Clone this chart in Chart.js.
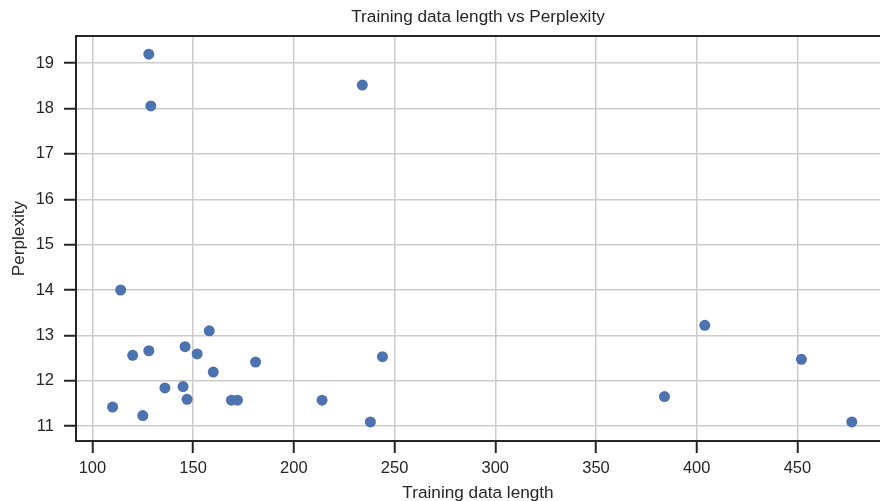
<!DOCTYPE html>
<html>
<head>
<meta charset="utf-8">
<script src="https://cdn.jsdelivr.net/npm/chart.js@4/dist/chart.umd.min.js"></script>
<style>
  html, body { margin: 0; padding: 0; background: #ffffff; }
  #wrap { width: 880px; height: 501px; position: relative; }
</style>
</head>
<body>
<div id="wrap"><canvas id="chart"></canvas></div>
<script>
const lengths = [128, 129, 234, 114, 120, 128, 146, 152, 158, 160, 181, 136, 145, 147, 110, 125, 169, 172, 214, 238, 244, 384, 404, 452, 477];
const perplexity = [19.2, 18.06, 18.52, 14.0, 12.56, 12.66, 12.75, 12.59, 13.1, 12.19, 12.41, 11.84, 11.87, 11.59, 11.42, 11.23, 11.57, 11.57, 11.57, 11.09, 12.53, 11.65, 13.22, 12.47, 11.09];
const xTicks = [100, 150, 200, 250, 300, 350, 400, 450];
const yTicks = [11, 12, 13, 14, 15, 16, 17, 18, 19];

const ink = "#262626";
const fontFamily = "'Liberation Sans', Arial, sans-serif";

const points = lengths.map((l, i) => ({ x: l, y: perplexity[i] }));

// matplotlib-like top spine
const topSpine = {
  id: "topSpine",
  afterDraw(chart) {
    const { ctx, chartArea } = chart;
    ctx.save();
    ctx.strokeStyle = ink;
    ctx.lineWidth = 2;
    ctx.beginPath();
    ctx.moveTo(chartArea.left - 1, chartArea.top);
    ctx.lineTo(chartArea.right, chartArea.top);
    ctx.stroke();
    ctx.restore();
  }
};

new Chart(document.getElementById("chart"), {
  type: "scatter",
  plugins: [topSpine],
  data: {
    datasets: [{
      data: points,
      backgroundColor: "#4c72b0",
      borderWidth: 0,
      pointRadius: 5.5,
      pointHoverRadius: 5.5
    }]
  },
  options: {
    responsive: true,
    maintainAspectRatio: false,
    animation: false,
    events: [],
    layout: { padding: 0, autoPadding: false },
    plugins: {
      legend: { display: false },
      tooltip: { enabled: false },
      title: {
        display: true,
        fullSize: false,
        text: "Training data length vs Perplexity",
        color: ink,
        font: { family: fontFamily, size: 17.2, weight: "normal" },
        padding: { top: 7, bottom: 8.4 }
      }
    },
    scales: {
      x: {
        type: "linear",
        min: 91.85,
        max: 491,
        afterFit: (s) => { s.height = 60; s.paddingLeft = 0; s.paddingRight = 0; },
        afterBuildTicks: (s) => { s.ticks = xTicks.map(v => ({ value: v })); },
        border: { display: true, color: ink, width: 2 },
        grid: { color: "#cccccc", lineWidth: 1.5, tickColor: ink, tickWidth: 2, tickLength: 12 },
        ticks: { color: ink, padding: 6, maxRotation: 0, font: { family: fontFamily, size: 16.5 } },
        title: {
          display: true,
          text: "Training data length",
          color: ink,
          font: { family: fontFamily, size: 17.2 },
          padding: { top: 0, bottom: -2.5 }
        }
      },
      y: {
        type: "linear",
        min: 10.67,
        max: 19.6,
        afterFit: (s) => { s.width = 76; s.paddingTop = 0; s.paddingBottom = 0; },
        afterBuildTicks: (s) => { s.ticks = yTicks.map(v => ({ value: v })); },
        border: { display: true, color: ink, width: 2 },
        grid: { color: "#cccccc", lineWidth: 1.5, tickColor: ink, tickWidth: 2, tickLength: 12 },
        ticks: { color: ink, padding: 10, font: { family: fontFamily, size: 16.5 } },
        title: {
          display: true,
          text: "Perplexity",
          color: ink,
          font: { family: fontFamily, size: 17.2 },
          padding: { top: 8.5, bottom: 0 }
        }
      }
    }
  }
});
</script>
</body>
</html>
